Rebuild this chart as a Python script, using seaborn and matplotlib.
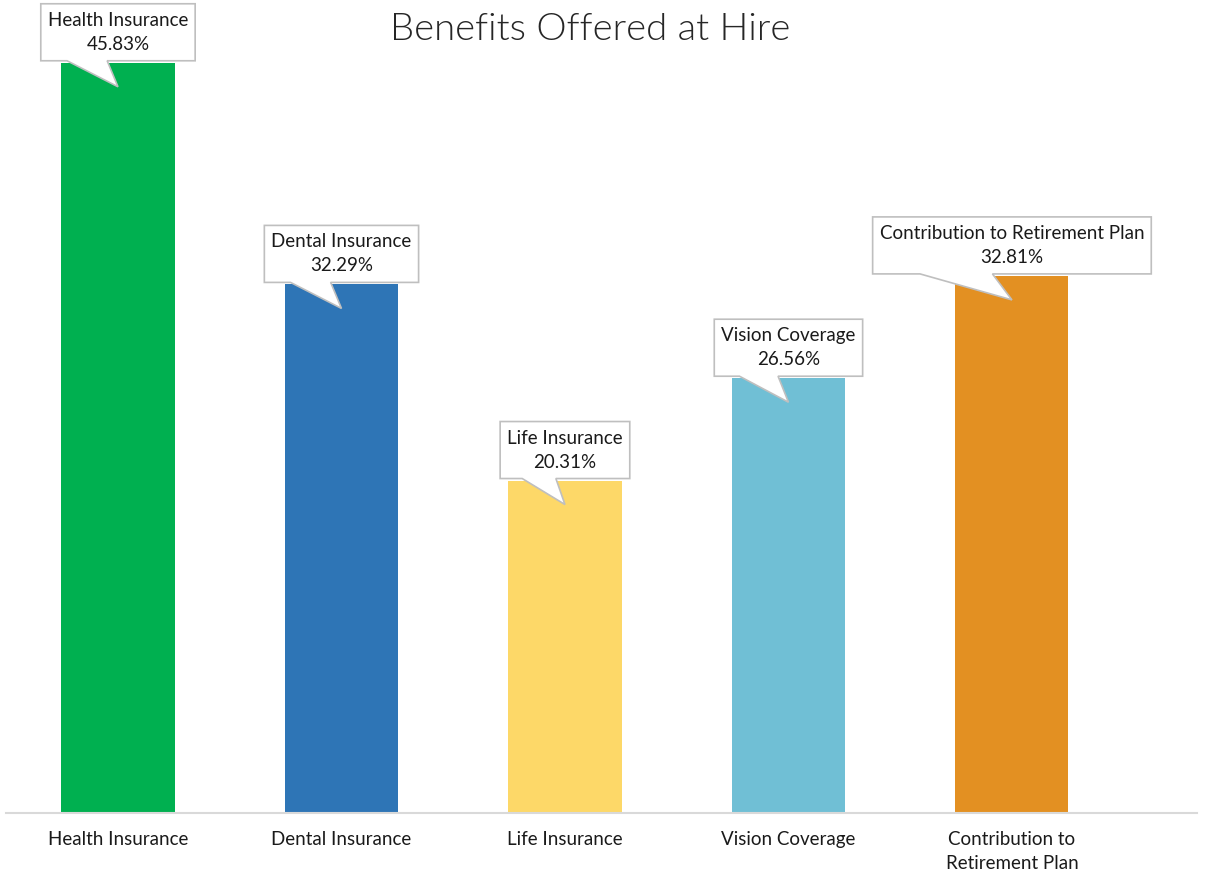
import matplotlib
matplotlib.use("Agg")
import matplotlib.pyplot as plt
from matplotlib.patches import Polygon
import pandas as pd
import seaborn as sns

# data
categories = ["Health Insurance", "Dental Insurance", "Life Insurance",
              "Vision Coverage", "Contribution to Retirement Plan"]
tick_labels = ["Health Insurance", "Dental Insurance", "Life Insurance",
               "Vision Coverage", "Contribution to\nRetirement Plan"]
percents = [45.83, 32.29, 20.31, 26.56, 32.81]
bar_colors = ["#00B050", "#2E75B6", "#FDD868", "#70BFD5", "#E39022"]

df = pd.DataFrame({"Benefit": categories, "Percent": percents})

sns.set_theme(style="white")
plt.rcParams["font.family"] = ["Lato", "DejaVu Sans"]

W, H = 1211, 873
fig = plt.figure(figsize=(W / 100, H / 100), dpi=100)
ax = fig.add_axes([6 / W, 60 / H, (1197 - 6) / W, 813 / H])

sns.barplot(data=df, x="Benefit", y="Percent", hue="Benefit",
            palette=bar_colors, legend=False, width=0.506, saturation=1,
            linewidth=0, ax=ax)

ax.set_xlim(-0.501, 4.828)
ax.set_ylim(0, 813 / 16.37)
ax.set_xlabel("")
ax.set_ylabel("")
ax.set_yticks([])
ax.set_xticks(range(len(categories)))
ax.set_xticklabels(tick_labels, fontsize=13.5, color="#1a1a1a", linespacing=1.5)
ax.tick_params(axis="x", length=0, pad=13)
for side in ["top", "right", "left"]:
    ax.spines[side].set_visible(False)
ax.spines["bottom"].set_color("#D9D9D9")
ax.spines["bottom"].set_linewidth(1.5)

fig.text(590 / W, 1 - 30 / H, "Benefits Offered at Hire", ha="center", va="center",
         fontsize=27.5, fontweight=300, color="#262626")

# callout labels
fig.canvas.draw()
renderer = fig.canvas.get_renderer()
for i, (name, val) in enumerate(zip(categories, percents)):
    px, py = ax.transData.transform((i, val))
    bottom = py + 2
    top = py + 59
    tip = py - 24
    t = fig.text(px / W, (bottom + top) / 2 / H, f"{name}\n{val:.2f}%",
                 ha="center", va="center", multialignment="center",
                 fontsize=13.5, color="#1a1a1a", linespacing=1.5, zorder=6)
    tw = t.get_window_extent(renderer).width
    left = px - tw / 2 - 7
    right = px + tw / 2 + 7
    bw = right - left
    verts = [(left, bottom), (left + 0.17 * bw, bottom), (px, tip),
             (left + 0.43 * bw, bottom), (right, bottom), (right, top), (left, top)]
    verts = [(x / W, y / H) for x, y in verts]
    fig.patches.append(Polygon(verts, closed=True, transform=fig.transFigure,
                               facecolor="white", edgecolor="#BFBFBF",
                               linewidth=1.2, zorder=5))

fig.savefig("out.png", dpi=100)
